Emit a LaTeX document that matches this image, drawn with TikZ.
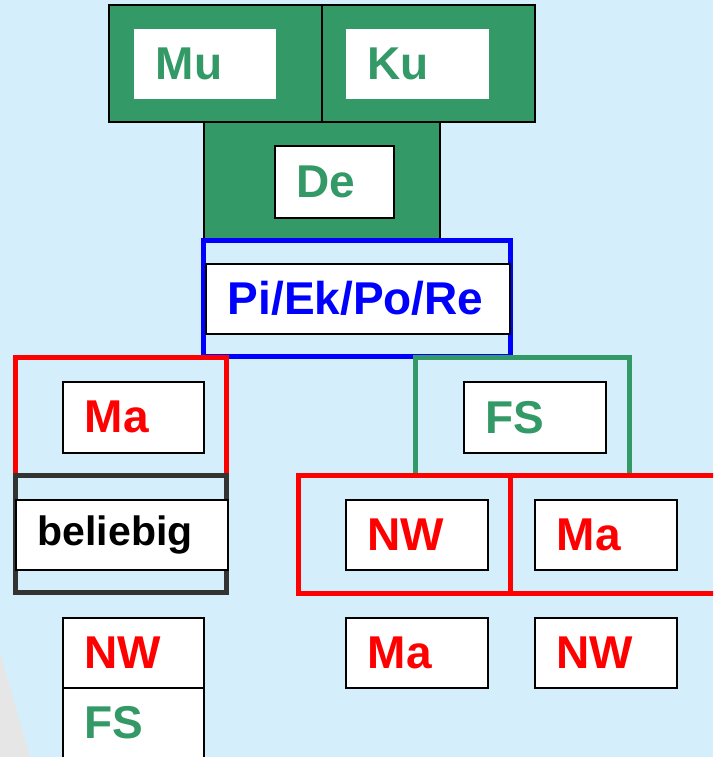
\documentclass[tikz,border=0pt]{standalone}
\usepackage{fontspec}
\setmainfont{Liberation Sans}
\usepackage{tikz}
\definecolor{bgblue}{RGB}{212,238,252}
\definecolor{lgreen}{RGB}{51,153,102}
\definecolor{dgray}{RGB}{51,51,51}
\definecolor{lgray}{RGB}{230,230,230}
\tikzset{
  wbox/.style={fill=white, draw=black, line width=1.5pt, anchor=north west,
    minimum height=70pt, inner xsep=22pt, inner ysep=0pt, text width=#1,
    align=left, font=\bfseries\fontsize{46}{48}\selectfont},
  nobox/.style={wbox=#1, draw=none},
  greenblock/.style={fill=lgreen, draw=black, line width=1.5pt},
  grpframe/.style={draw=#1, line width=5pt}
}

\begin{document}
\begin{tikzpicture}[x=1pt,y=-1pt]
      \useasboundingbox (0,0) rectangle (713,757);
      \clip (0,0) rectangle (713,757);
      \fill[bgblue] (0,0) rectangle (713,757);
      \fill[lgray] (0,653) -- (30,757) -- (0,757) -- cycle;

      % green blocks on top
      \draw[greenblock] (109,5) rectangle (322,122);
      \draw[greenblock] (322,5) rectangle (535,122);
      \draw[greenblock] (204,122) rectangle (440,240);
      \draw[grpframe=blue] (203.5,240) rectangle (510.5,356.5);

      % left branch
      \draw[grpframe=red] (15,357.5) rectangle (226.5,475.5);
      \draw[grpframe=dgray] (15,475.5) rectangle (226.5,592);

      % right branch
      \draw[grpframe=lgreen] (415.5,357.5) rectangle (629.5,475.5);
      \draw[grpframe=red] (298.5,475.5) rectangle (510.5,593);
      \draw[grpframe=red] (510.5,475.5) rectangle (740,593);

      \node[nobox=98pt, text=lgreen] (mu) at (133,28) {Mu};
      \node[nobox=99pt, text=lgreen] (ku) at (345,28) {Ku};
      \node[wbox=75pt, text=lgreen, minimum height=72pt] (de) at (274,145) {De};
      \node[wbox=260pt, text=blue] (pi) at (205,263) {Pi/Ek/Po/Re};

      \node[wbox=97pt, text=red, minimum height=71pt] (ma1) at (62,381) {Ma};
      \node[wbox=98pt, text=lgreen, minimum height=71pt] (fs1) at (463,381) {FS};

      \node[wbox=168pt, font=\bfseries\fontsize{41}{44}\selectfont] (bel) at (15,499) {beliebig};
      \node[wbox=98pt, text=red] (nw2) at (345,499) {NW};
      \node[wbox=98pt, text=red] (ma2) at (534,499) {Ma};

      \node[wbox=97pt, text=red] (nw3) at (62,617) {NW};
      \node[wbox=97pt, text=lgreen] (fs3) at (62,687) {FS};
      \node[wbox=98pt, text=red] (ma3) at (345,617) {Ma};
      \node[wbox=98pt, text=red] (nw4) at (534,617) {NW};
\end{tikzpicture}
\end{document}
